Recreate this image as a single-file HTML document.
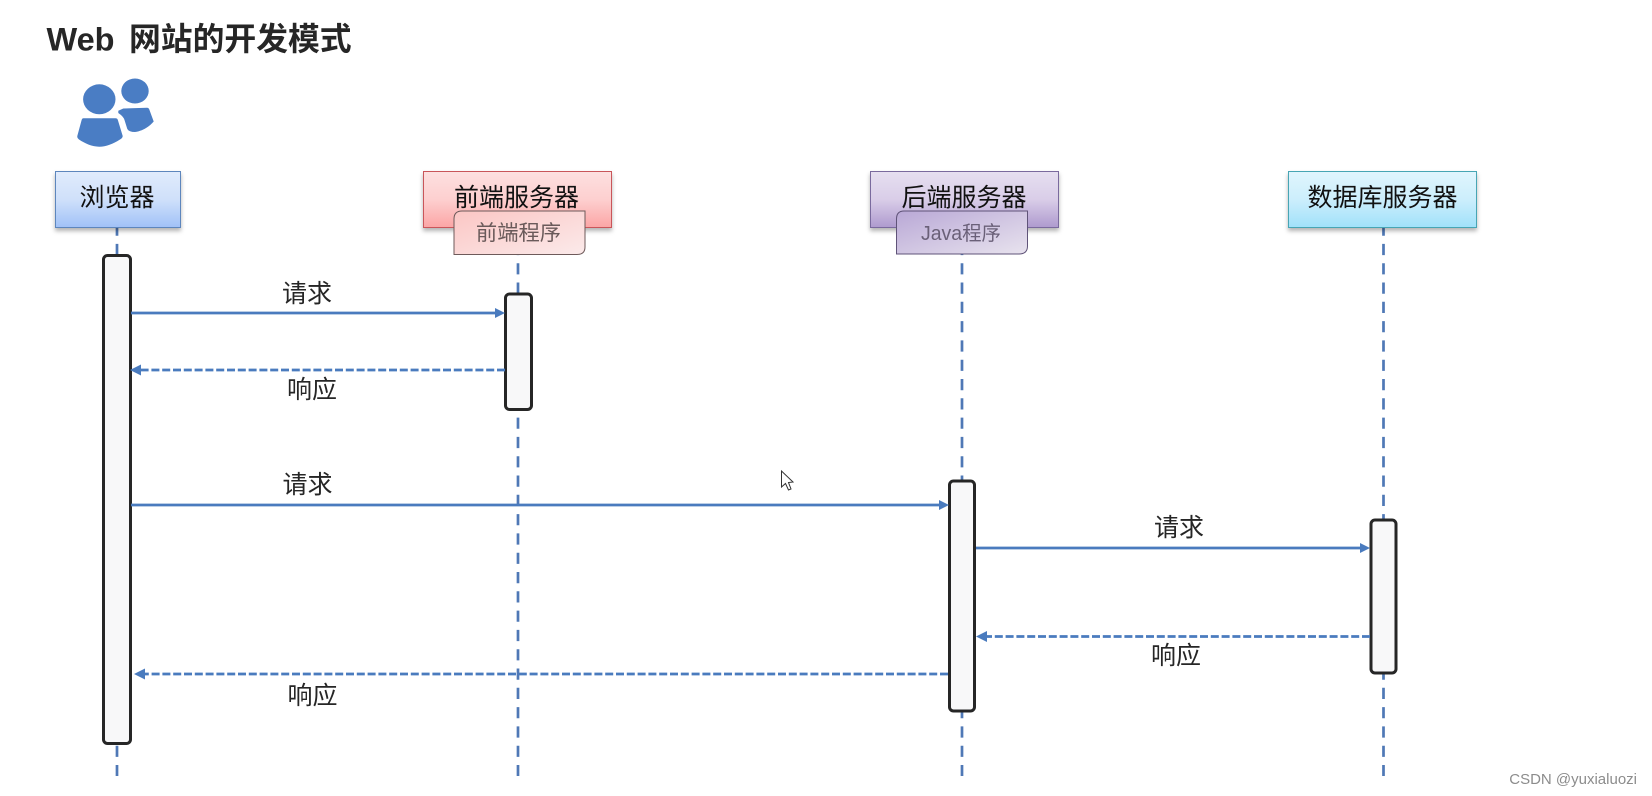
<!DOCTYPE html>
<html><head><meta charset="utf-8">
<style>
html,body{margin:0;padding:0;background:#fff;width:1652px;height:796px;overflow:hidden}
svg{display:block}
text{font-family:"Liberation Sans","Noto Sans CJK SC",sans-serif}
</style></head><body>
<svg width="1652" height="796" viewBox="0 0 1652 796" xmlns="http://www.w3.org/2000/svg">
<defs>
<linearGradient id="gb" x1="0" y1="0" x2="0" y2="1"><stop offset="0" stop-color="#e0ebfc"/><stop offset="0.5" stop-color="#cfe0fa"/><stop offset="1" stop-color="#a0c1f7"/></linearGradient>
<linearGradient id="gr" x1="0" y1="0" x2="0" y2="1"><stop offset="0" stop-color="#fde0e0"/><stop offset="0.5" stop-color="#fdcfcf"/><stop offset="1" stop-color="#fba5a5"/></linearGradient>
<linearGradient id="gp" x1="0" y1="0" x2="0" y2="1"><stop offset="0" stop-color="#e6dff0"/><stop offset="0.5" stop-color="#d9cde8"/><stop offset="1" stop-color="#ae9ace"/></linearGradient>
<linearGradient id="gc" x1="0" y1="0" x2="0" y2="1"><stop offset="0" stop-color="#e0f5fd"/><stop offset="0.5" stop-color="#cceefc"/><stop offset="1" stop-color="#a0e1fa"/></linearGradient>
<linearGradient id="sr" x1="0" y1="0" x2="1" y2="1"><stop offset="0" stop-color="#fbc6c4"/><stop offset="1" stop-color="#fbeaea"/></linearGradient>
<linearGradient id="sp" x1="0" y1="0" x2="1" y2="1"><stop offset="0" stop-color="#b9a8d6"/><stop offset="1" stop-color="#e8e3ee"/></linearGradient>
<filter id="sh" x="-10%" y="-10%" width="120%" height="130%"><feDropShadow dx="0" dy="3" stdDeviation="2" flood-color="#000" flood-opacity="0.3"/></filter>
</defs>

<text x="46.500" y="50.500" font-size="32.500" font-weight="700" fill="#262626">Web</text>
<text x="129" y="50" font-size="31.800" font-weight="700" fill="#262626">网站的开发模式</text>

<!-- users icon -->
<g fill="#4a7dc4">
<ellipse cx="99.300" cy="99.300" rx="16.200" ry="15"/>
<ellipse cx="135" cy="91" rx="13.700" ry="12.500"/>
<path d="M83.500 118.300 L115.500 118.300 Q117.500 118.300 118 120.500 L122.700 136 Q122.700 138 120 139.500 C113 144 106 146.700 99.300 146.700 C92 146.700 85 143.500 79 139.500 Q77 138 77.300 136 L81.500 120.500 Q82 118.300 83.500 118.300 Z"/>
<path d="M118.300 110.700 L123.300 108.500 L147 107.700 Q148.800 107.700 149.300 109.500 L153.700 121.500 C150 126 143 131 135 132 Q129 132 127.300 129 L124.500 120 Q123.500 116.500 118.300 113 Z"/>
</g>

<!-- lifelines -->
<g stroke="#4f78b6" stroke-width="2.700" stroke-dasharray="11.200 8.100" stroke-dashoffset="3.400" fill="none">
<line x1="117" y1="228" x2="117" y2="776"/>
<line x1="518" y1="228" x2="518" y2="776"/>
<line x1="962" y1="228" x2="962" y2="776"/>
<line x1="1383.500" y1="228" x2="1383.500" y2="776"/>
</g>

<!-- header boxes -->
<rect x="55.500" y="171.500" width="125" height="56" fill="url(#gb)" stroke="#5d86bd" stroke-width="1" filter="url(#sh)"/>
<rect x="423.500" y="171.500" width="188" height="56" fill="url(#gr)" stroke="#c9575a" stroke-width="1" filter="url(#sh)"/>
<rect x="870.500" y="171.500" width="188" height="56" fill="url(#gp)" stroke="#7a6a9e" stroke-width="1" filter="url(#sh)"/>
<rect x="1288.500" y="171.500" width="188" height="56" fill="url(#gc)" stroke="#46a5b4" stroke-width="1" filter="url(#sh)"/>
<g font-size="25" fill="#111" text-anchor="middle">
<text x="117" y="206">浏览器</text>
<text x="516.500" y="206">前端服务器</text>
<text x="964" y="206">后端服务器</text>
<text x="1382.500" y="206">数据库服务器</text>
</g>

<!-- sub boxes -->
<path d="M454 219 Q454 211 462 211 L585 211 L585 247 Q585 254.500 577 254.500 L454 254.500 Z" fill="url(#sr)" stroke="#6e5a5a" stroke-width="1"/>
<path d="M896.500 219 Q896.500 211 904 211 L1027.500 211 L1027.500 246 Q1027.500 254 1019 254 L896.500 254 Z" fill="url(#sp)" stroke="#5f5378" stroke-width="1"/>
<text x="518.500" y="240" font-size="21.300" fill="#6a5a5a" text-anchor="middle">前端程序</text>
<text x="921" y="240" font-size="20" fill="#6a6078" textLength="80" lengthAdjust="spacingAndGlyphs">Java程序</text>

<!-- activations -->
<g fill="#f8f8f9" stroke="#262626" stroke-width="3">
<rect x="103.500" y="255.500" width="27" height="488" rx="4"/>
<rect x="505.500" y="294" width="26" height="115.500" rx="4"/>
<rect x="949.500" y="481" width="25" height="230" rx="4"/>
<rect x="1371" y="520" width="25" height="153" rx="4"/>
</g>

<!-- arrows -->
<g stroke="#4a7bbe" stroke-width="2.800" fill="none">
<line x1="131" y1="313" x2="498" y2="313"/>
<line x1="131" y1="505" x2="942" y2="505"/>
<line x1="976" y1="548" x2="1362" y2="548"/>
<g stroke-dasharray="8 2.800">
<line x1="505" y1="370" x2="140" y2="370"/>
<line x1="1370" y1="636.500" x2="985" y2="636.500"/>
<line x1="948" y1="674" x2="144" y2="674"/>
</g>
</g>
<g fill="#4a7bbe">
<polygon points="505,313 495,308 495,318"/>
<polygon points="949,505 939,500 939,510"/>
<polygon points="1370,548 1360,543 1360,553"/>
<polygon points="130,370 141,364.500 141,375.500"/>
<polygon points="976,636.500 987,631 987,642"/>
<polygon points="134,674 145,668.500 145,679.500"/>
</g>

<!-- labels -->
<g font-size="25" fill="#262626" text-anchor="middle">
<text x="307" y="302">请求</text>
<text x="312" y="398">响应</text>
<text x="307.500" y="493">请求</text>
<text x="1179" y="536">请求</text>
<text x="1176" y="664">响应</text>
<text x="312.500" y="704">响应</text>
</g>

<!-- cursor -->
<path d="M781.500 471 L781.500 487 L785.500 483.500 L788.500 490 L791 489 L788.500 482.500 L793 482 Z" fill="#fff" stroke="#333" stroke-width="1"/>

<text x="1637" y="784" font-size="15" fill="#8c8c8c" text-anchor="end">CSDN @yuxialuozi</text>
</svg>
</body></html>
